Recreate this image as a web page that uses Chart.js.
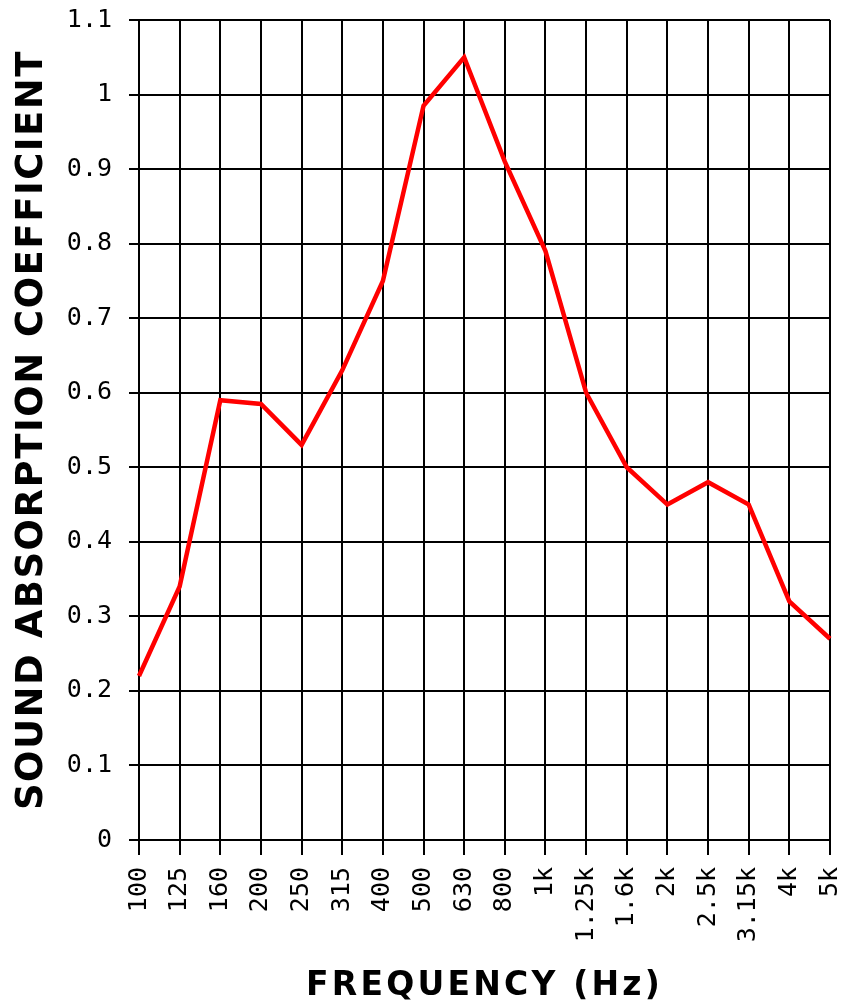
<!DOCTYPE html>
<html>
<head>
<meta charset="utf-8">
<style>
html,body{margin:0;padding:0;background:#fff;}
#wrap{width:843px;height:1006px;position:relative;}
</style>
<script src="https://cdn.jsdelivr.net/npm/chart.js@4.4.1/dist/chart.umd.min.js"></script>
</head>
<body>
<div id="wrap"><canvas id="c" width="843" height="1006"></canvas></div>
<script>
const frequencies = ['100','125','160','200','250','315','400','500','630','800','1k','1.25k','1.6k','2k','2.5k','3.15k','4k','5k'];
const absorption = [0.22,0.34,0.59,0.585,0.53,0.63,0.75,0.985,1.05,0.91,0.79,0.60,0.50,0.45,0.48,0.45,0.32,0.27];
const xTitle = 'FREQUENCY (Hz)';
const yTitle = 'SOUND ABSORPTION COEFFICIENT';
const yMin = 0, yMax = 1.1, yStep = 0.1;

const titleSpacing = {x:'3.2px', y:'1.5px'};
const origDrawTitle = Chart.Scale.prototype.drawTitle;
Chart.Scale.prototype.drawTitle = function(){
  const ctx = this.ctx;
  const prev = ctx.letterSpacing;
  ctx.letterSpacing = titleSpacing[this.id] || '0px';
  origDrawTitle.apply(this, arguments);
  ctx.letterSpacing = prev || '0px';
};

const tickFont = {family:'"DejaVu Sans Mono", monospace', size:25};

new Chart(document.getElementById('c'), {
  type:'line',
  data:{labels:frequencies, datasets:[{data:absorption, borderColor:'#ff0000', borderWidth:4.5, pointRadius:0, tension:0, fill:false, borderJoinStyle:'miter'}]},
  options:{
    responsive:false, animation:false, devicePixelRatio:1,
    layout:{padding:0},
    plugins:{legend:{display:false}, tooltip:{enabled:false}},
    scales:{
      x:{
        type:'category', offset:false,
        grid:{color:'#000', lineWidth:2, tickLength:15},
        border:{color:'#000', width:2},
        ticks:{color:'#000', font:tickFont, maxRotation:90, minRotation:90, autoSkip:false, padding:12},
        title:{display:true, text:xTitle, color:'#000', font:{family:'"DejaVu Sans", Verdana, sans-serif', size:33, weight:'bold'}, padding:{top:0,bottom:0}},
        afterFit(s){ s.height = 1006 - 840; s.paddingLeft = 0; s.paddingRight = 13; }
      },
      y:{
        min:yMin, max:yMax,
        grid:{color:'#000', lineWidth:2, tickLength:10},
        border:{color:'#000', width:2},
        ticks:{color:'#000', font:tickFont, stepSize:yStep, padding:17,
          callback:(v)=>String(Number(v.toFixed(1)))},
        title:{display:true, text:yTitle, color:'#000', font:{family:'"DejaVu Sans", Verdana, sans-serif', size:37, weight:'bold'}, padding:{top:10,bottom:0}},
        afterFit(s){ s.width = 139; s.paddingTop = 20; s.paddingBottom = 0; }
      }
    }
  }
});
</script>
</body>
</html>
